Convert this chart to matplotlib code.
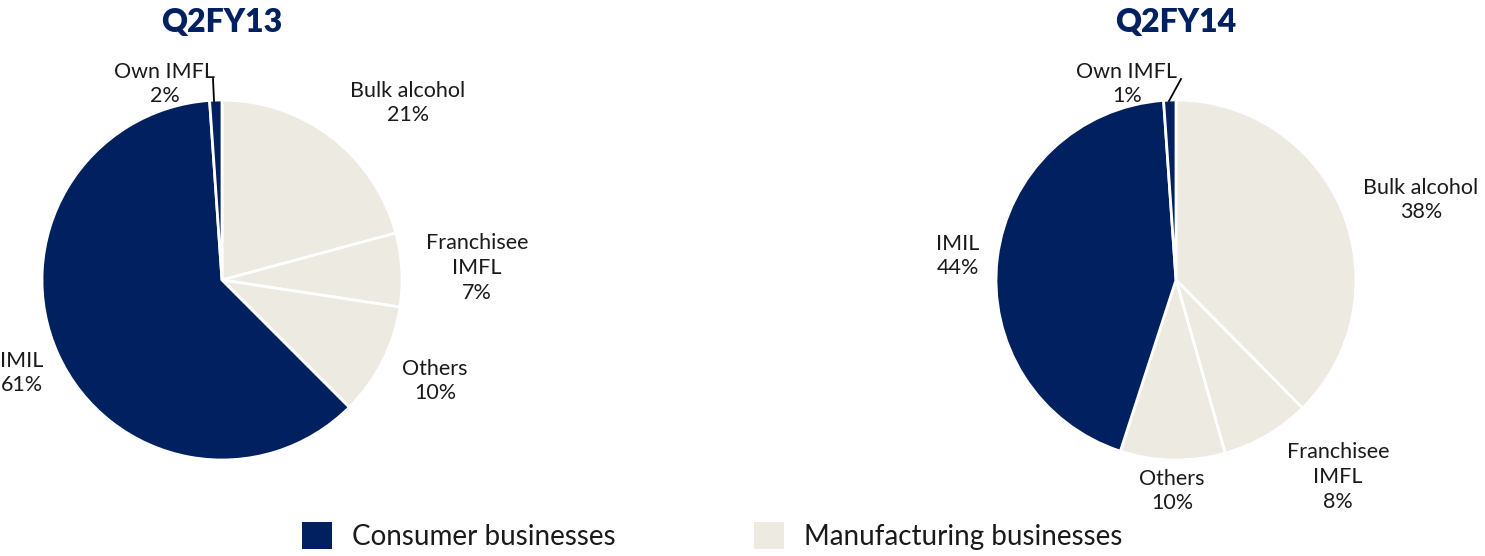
import matplotlib
matplotlib.use("Agg")
import matplotlib.pyplot as plt
from matplotlib.patches import Patch

# shares, clockwise from 12 o'clock
segments = ["Bulk alcohol", "Franchisee\nIMFL", "Others", "IMIL", "Own IMFL"]
share_fy13 = [20.8, 6.6, 10.1, 61.4, 1.1]
share_fy14 = [37.6, 8.0, 9.4, 43.9, 1.1]
label_pct_fy13 = ["21%", "7%", "10%", "61%", "2%"]
label_pct_fy14 = ["38%", "8%", "10%", "44%", "1%"]
titles = ["Q2FY13", "Q2FY14"]
groups = ["Consumer businesses", "Manufacturing businesses"]

NAVY = "#002060"
BEIGE = "#ECEAE1"
seg_colors = [BEIGE, BEIGE, BEIGE, NAVY, NAVY]

plt.rcParams["font.family"] = ["Lato", "DejaVu Sans"]

W, H = 1485, 556
fig = plt.figure(figsize=(W / 100, H / 100), dpi=100)
ax = fig.add_axes([0, 0, 1, 1])

# pie layout in pixels (y measured from top)
centers = [(222, 280), (1176, 280)]
radius = 180

# label text anchors (pixels from top-left)
label_pos = [
    [(408, 103), (477, 268), (435, 381), (22, 373), (165, 84)],
    [(1421, 200), (1338, 477), (1172, 491), (958, 256), (1127, 84)],
]
# leader lines for the tiny slice
leaders = [[(214, 101), (213, 79)], [(1169, 101), (1181, 79)]]

for i, (shares, pcts) in enumerate([(share_fy13, label_pct_fy13),
                                    (share_fy14, label_pct_fy14)]):
    cx, cy = centers[i]
    ax.pie(shares, colors=seg_colors, startangle=90, counterclock=False,
           center=(cx, H - cy), radius=radius,
           wedgeprops=dict(edgecolor="white", linewidth=2))
    for (lx, ly), name, pct in zip(label_pos[i], segments, pcts):
        ax.text(lx, H - ly, f"{name}\n{pct}", ha="center", va="center",
                fontsize=15.5, color="#1a1a1a", linespacing=1.3)
    (x0, y0), (x1, y1) = leaders[i]
    ax.plot([x0, x1], [H - y0, H - y1], color="black", lw=1.3)
    ax.text(centers[i][0], H - 22, titles[i], ha="center", va="center",
            fontsize=23, fontweight="heavy", color=NAVY)

ax.set_xlim(0, W)
ax.set_ylim(0, H)
ax.set_aspect("auto")
ax.axis("off")

handles = [Patch(facecolor=NAVY, edgecolor="none"),
           Patch(facecolor=BEIGE, edgecolor="none")]
fig.legend(handles, groups, loc="center", ncol=2, frameon=False,
           bbox_to_anchor=(712 / W, 1 - 536 / H), fontsize=20,
           handlelength=1.08, handleheight=1.15, handletextpad=0.7,
           columnspacing=5.0, labelcolor="#1a1a1a")

fig.savefig("out.png", dpi=100)
